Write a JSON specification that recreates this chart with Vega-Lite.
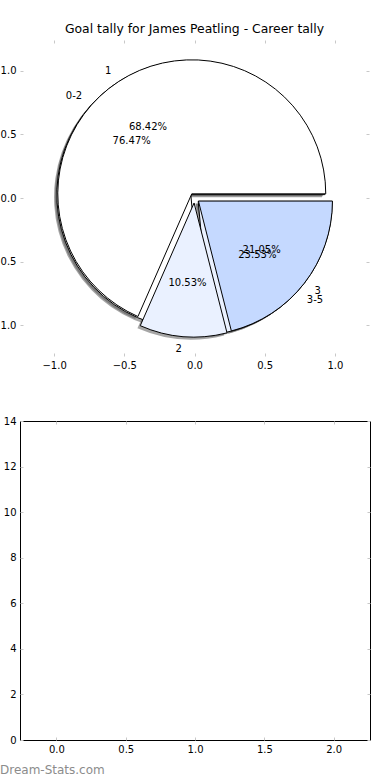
{
  "$schema": "https://vega.github.io/schema/vega-lite/v6.json",
  "autosize": {"type": "none"},
  "padding": {"left": 20, "top": 40, "right": 370, "bottom": 740},
  "background": "white",
  "datasets": {
    "pieA": [
      {"label": "1", "frac": 0.6842, "k": 1},
      {"label": "2", "frac": 0.1053, "k": 2},
      {"label": "3", "frac": 0.2105, "k": 3}
    ],
    "pieB": [
      {"label": "0-2", "frac": 0.7647, "k": 1},
      {"label": "3-5", "frac": 0.2353, "k": 2}
    ],
    "empty": []
  },
  "config": {
    "font": "DejaVu Sans",
    "axis": {
      "grid": false,
      "domain": false,
      "title": null,
      "tickColor": "#c8c8c8",
      "tickSize": -3,
      "tickWidth": 1,
      "labelFont": "DejaVu Sans",
      "labelFontSize": 10,
      "labelColor": "#000000",
      "labelPadding": 7
    }
  },
  "vconcat": [
    {
      "width": 349,
      "height": 316,
      "view": {"stroke": null},
      "title": {
        "text": "Goal tally for James Peatling - Career tally",
        "font": "DejaVu Sans",
        "fontSize": 12.4,
        "fontWeight": "normal",
        "color": "#000000",
        "anchor": "middle",
        "frame": "group",
        "baseline": "alphabetic",
        "offset": -6
      },
      "layer": [
        {
          "data": {"name": "pieA"},
          "mark": {"type": "point", "opacity": 0},
          "encoding": {
            "x": {"datum": 0, "type": "quantitative", "scale": {"domain": [-1.243, 1.243], "nice": false, "zero": false}, "axis": {"orient": "bottom", "values": [-1, -0.5, 0, 0.5, 1], "format": ".1f"}},
            "y": {"datum": 0, "type": "quantitative", "scale": {"domain": [-1.242, 1.242], "nice": false, "zero": false}, "axis": {"orient": "left", "values": [-1, -0.5, 0, 0.5, 1], "format": ".1f"}}
          }
        },
        {
          "data": {"name": "pieA"},
          "mark": {"type": "point", "opacity": 0},
          "encoding": {
            "x": {"datum": 0, "type": "quantitative", "axis": {"orient": "top", "values": [-1, -0.5, 0, 0.5, 1], "labels": false}},
            "y": {"datum": 0, "type": "quantitative", "axis": {"orient": "right", "values": [-1, -0.5, 0, 0.5, 1], "labels": false}}
          }
        },
        {
          "data": {"name": "pieB"},
          "mark": {"type": "arc", "radius": 134, "fill": "#4d4d4d", "opacity": 0.5,
            "xOffset": {"expr": "5*cos(PI*(datum.frac_start+datum.frac_end)) - 2.8"},
            "yOffset": {"expr": "-5*sin(PI*(datum.frac_start+datum.frac_end)) + 2.5"}},
          "encoding": {
            "theta": {"field": "frac", "type": "quantitative", "stack": true, "scale": {"domain": [0, 1], "range": [1.5707963, -4.712389]}},
            "order": {"field": "k", "type": "quantitative"},
            "x": {"datum": 0, "type": "quantitative", "axis": null},
            "y": {"datum": 0, "type": "quantitative", "axis": null}
          }
        },
        {
          "data": {"name": "pieA"},
          "mark": {"type": "arc", "radius": 134, "fill": "#4d4d4d", "opacity": 0.5,
            "xOffset": {"expr": "5*cos(PI*(datum.frac_start+datum.frac_end)) - 2.8"},
            "yOffset": {"expr": "-5*sin(PI*(datum.frac_start+datum.frac_end)) + 2.5"}},
          "encoding": {
            "theta": {"field": "frac", "type": "quantitative", "stack": true},
            "order": {"field": "k", "type": "quantitative"},
            "x": {"datum": 0, "type": "quantitative", "axis": null},
            "y": {"datum": 0, "type": "quantitative", "axis": null}
          }
        },
        {
          "data": {"name": "pieB"},
          "mark": {"type": "arc", "radius": 134, "stroke": "#000000", "strokeWidth": 1,
            "xOffset": {"expr": "5*cos(PI*(datum.frac_start+datum.frac_end))"},
            "yOffset": {"expr": "-5*sin(PI*(datum.frac_start+datum.frac_end))"}},
          "encoding": {
            "theta": {"field": "frac", "type": "quantitative", "stack": true},
            "order": {"field": "k", "type": "quantitative"},
            "fill": {"field": "label", "type": "nominal", "legend": null, "scale": {"domain": ["1", "2", "3", "0-2", "3-5"], "range": ["#ffffff", "#eaf1ff", "#c5d9ff", "#ffffff", "#eaf1ff"]}},
            "x": {"datum": 0, "type": "quantitative", "axis": null},
            "y": {"datum": 0, "type": "quantitative", "axis": null}
          }
        },
        {
          "data": {"name": "pieA"},
          "mark": {"type": "arc", "radius": 134, "stroke": "#000000", "strokeWidth": 1,
            "xOffset": {"expr": "5*cos(PI*(datum.frac_start+datum.frac_end))"},
            "yOffset": {"expr": "-5*sin(PI*(datum.frac_start+datum.frac_end))"}},
          "encoding": {
            "theta": {"field": "frac", "type": "quantitative", "stack": true},
            "order": {"field": "k", "type": "quantitative"},
            "fill": {"field": "label", "type": "nominal", "legend": null},
            "x": {"datum": 0, "type": "quantitative", "axis": null},
            "y": {"datum": 0, "type": "quantitative", "axis": null}
          }
        },
        {
          "data": {"name": "pieA"},
          "mark": {"type": "text", "radius": 147, "font": "DejaVu Sans", "fontSize": 10, "fill": "#000000", "baseline": "middle",
            "align": {"expr": "cos(PI*(datum.frac_start+datum.frac_end)) > 0 ? 'left' : 'right'"},
            "xOffset": {"expr": "5*cos(PI*(datum.frac_start+datum.frac_end))"},
            "yOffset": {"expr": "-5*sin(PI*(datum.frac_start+datum.frac_end))"}},
          "encoding": {
            "theta": {"field": "frac", "type": "quantitative", "stack": true},
            "order": {"field": "k", "type": "quantitative"},
            "text": {"field": "label", "type": "nominal"},
            "x": {"datum": 0, "type": "quantitative", "axis": null},
            "y": {"datum": 0, "type": "quantitative", "axis": null}
          }
        },
        {
          "data": {"name": "pieA"},
          "mark": {"type": "text", "radius": 80, "font": "DejaVu Sans", "fontSize": 10, "fill": "#000000", "baseline": "middle", "align": "center",
            "xOffset": {"expr": "5*cos(PI*(datum.frac_start+datum.frac_end))"},
            "yOffset": {"expr": "-5*sin(PI*(datum.frac_start+datum.frac_end))"}},
          "encoding": {
            "theta": {"field": "frac", "type": "quantitative", "stack": true},
            "order": {"field": "k", "type": "quantitative"},
            "text": {"field": "frac", "type": "quantitative", "format": ".2%"},
            "x": {"datum": 0, "type": "quantitative", "axis": null},
            "y": {"datum": 0, "type": "quantitative", "axis": null}
          }
        },
        {
          "data": {"name": "pieB"},
          "mark": {"type": "text", "radius": 147, "font": "DejaVu Sans", "fontSize": 10, "fill": "#000000", "baseline": "middle",
            "align": {"expr": "cos(PI*(datum.frac_start+datum.frac_end)) > 0 ? 'left' : 'right'"},
            "xOffset": {"expr": "5*cos(PI*(datum.frac_start+datum.frac_end))"},
            "yOffset": {"expr": "-5*sin(PI*(datum.frac_start+datum.frac_end))"}},
          "encoding": {
            "theta": {"field": "frac", "type": "quantitative", "stack": true},
            "order": {"field": "k", "type": "quantitative"},
            "text": {"field": "label", "type": "nominal"},
            "x": {"datum": 0, "type": "quantitative", "axis": null},
            "y": {"datum": 0, "type": "quantitative", "axis": null}
          }
        },
        {
          "data": {"name": "pieB"},
          "mark": {"type": "text", "radius": 80, "font": "DejaVu Sans", "fontSize": 10, "fill": "#000000", "baseline": "middle", "align": "center",
            "xOffset": {"expr": "5*cos(PI*(datum.frac_start+datum.frac_end))"},
            "yOffset": {"expr": "-5*sin(PI*(datum.frac_start+datum.frac_end))"}},
          "encoding": {
            "theta": {"field": "frac", "type": "quantitative", "stack": true},
            "order": {"field": "k", "type": "quantitative"},
            "text": {"field": "frac", "type": "quantitative", "format": ".2%"},
            "x": {"datum": 0, "type": "quantitative", "axis": null},
            "y": {"datum": 0, "type": "quantitative", "axis": null}
          }
        }
      ],
      "resolve": {"axis": {"x": "independent", "y": "independent"}}
    },
    {
      "width": 350,
      "height": 319,
      "view": {"stroke": "#000000", "strokeWidth": 1},
      "title": {
        "text": "Dream-Stats.com",
        "orient": "bottom",
        "anchor": "start",
        "frame": "group",
        "dx": -20,
        "font": "DejaVu Sans",
        "fontSize": 12,
        "fontWeight": "normal",
        "color": "#8c8c8c",
        "baseline": "alphabetic",
        "offset": 20
      },
      "layer": [
        {
          "data": {"name": "empty"},
          "mark": "bar",
          "encoding": {
            "x": {"field": "slot", "type": "quantitative", "scale": {"domain": [-0.227, 2.226], "nice": false, "zero": false}, "axis": {"orient": "bottom", "values": [0, 0.5, 1, 1.5, 2], "format": ".1f"}},
            "y": {"field": "goals", "type": "quantitative", "scale": {"domain": [0, 14], "nice": false, "zero": false}, "axis": {"orient": "left", "values": [0, 2, 4, 6, 8, 10, 12, 14], "format": "d"}}
          }
        },
        {
          "data": {"name": "empty"},
          "mark": "bar",
          "encoding": {
            "x": {"field": "slot", "type": "quantitative", "axis": {"orient": "top", "values": [0, 0.5, 1, 1.5, 2], "labels": false}},
            "y": {"field": "goals", "type": "quantitative", "axis": {"orient": "right", "values": [0, 2, 4, 6, 8, 10, 12, 14], "labels": false}}
          }
        }
      ],
      "resolve": {"axis": {"x": "independent", "y": "independent"}}
    }
  ],
  "spacing": 65,
  "bounds": "flush"
}
